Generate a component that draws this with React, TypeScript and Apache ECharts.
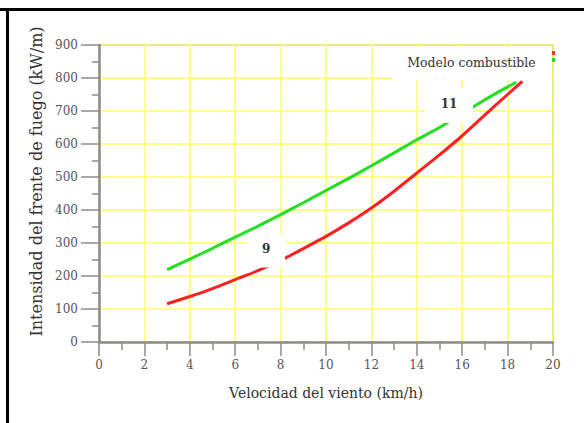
import React, { useEffect, useRef } from "react";
import * as echarts from "echarts";

// Curve for fuel model 11 (green)
const greenX = [3, 4, 5, 6, 7, 8, 9, 10, 11, 12, 13, 14, 15, 16, 17, 18, 18.38];
const greenY = [219, 251, 284, 318, 351, 386, 422, 459, 496, 534, 573, 613, 650, 692, 734, 773, 787];
// Curve for fuel model 9 (red)
const redX = [3, 4, 5, 6, 7, 8, 9, 10, 11, 12, 13, 14, 15, 16, 17, 18, 18.65];
const redY = [116, 138, 162, 189, 216, 247, 283, 320, 361, 406, 457, 512, 567, 625, 688, 750, 790];

const xTitle = "Velocidad del viento (km/h)";
const yTitle = "Intensidad del frente de fuego (kW/m)";
const legendTitle = "Modelo combustible";
const labelNine = "9";
const labelEleven = "11";

// label anchor points in data units [x, y] and white box size [w, h] in px
const labelTexts = [labelNine, labelEleven, legendTitle];
const labelAnchors = [
  [7.36, 277],
  [15.42, 717],
  [16.41, 843],
];
const labelBoxes = [
  [38, 34],
  [48, 35],
  [159, 32],
];
const labelBold = [true, true, false];
const labelSizes = [12, 12, 12.5];

const FONT = "DejaVu Serif";

export default function App() {
  const ref = useRef<HTMLDivElement>(null);

  useEffect(() => {
    if (!ref.current) return;
    const chart = echarts.init(ref.current, undefined, { renderer: "svg" });

    const green = greenX.map((x, i) => [x, greenY[i]]);
    const red = redX.map((x, i) => [x, redY[i]]);

    chart.setOption({
      animation: false,
      backgroundColor: "#ffffff",
      grid: {
        left: 99,
        right: 31,
        top: 45,
        bottom: 81,
        show: true,
        borderColor: "#a0a0a0",
        borderWidth: 1.5,
        backgroundColor: "transparent",
      },
      xAxis: {
        type: "value",
        min: 0,
        max: 20,
        interval: 2,
        name: xTitle,
        nameLocation: "middle",
        nameGap: 44,
        nameTextStyle: { fontFamily: FONT, fontSize: 14, color: "#333" },
        axisLine: { show: true, lineStyle: { color: "#8c8c8c", width: 2.5 } },
        axisTick: { show: true, length: 14, lineStyle: { color: "#8c8c8c", width: 1.5 } },
        minorTick: { show: true, splitNumber: 2, length: 8, lineStyle: { color: "#8c8c8c", width: 1.5 } },
        axisLabel: { margin: 17, fontFamily: FONT, fontSize: 12, color: "#555" },
        splitLine: { show: true, lineStyle: { color: "#ffff66", width: 1.5 } },
      },
      yAxis: {
        type: "value",
        min: 0,
        max: 900,
        interval: 100,
        name: yTitle,
        nameLocation: "middle",
        nameGap: 51,
        nameTextStyle: { fontFamily: FONT, fontSize: 16, color: "#333", padding: [0, 0, 0, 24] },
        axisLine: { show: true, lineStyle: { color: "#8c8c8c", width: 2.5 } },
        axisTick: { show: true, length: 18, lineStyle: { color: "#8c8c8c", width: 1.5 } },
        minorTick: { show: true, splitNumber: 2, length: 7, lineStyle: { color: "#8c8c8c", width: 1.5 } },
        axisLabel: { margin: 21, fontFamily: FONT, fontSize: 12, color: "#555" },
        splitLine: { show: true, lineStyle: { color: "#ffff66", width: 1.5 } },
      },
      series: [
        {
          type: "line",
          data: green,
          smooth: 0.2,
          showSymbol: false,
          lineStyle: { color: "#22e022", width: 3 },
        },
        {
          type: "line",
          data: red,
          smooth: 0.2,
          showSymbol: false,
          lineStyle: { color: "#ff2020", width: 3 },
        },
      ],
    });

    const labelGraphics: any[] = [];
    labelTexts.forEach((t, i) => {
      const p = chart.convertToPixel({ gridIndex: 0 }, labelAnchors[i]) as number[];
      const [w, h] = labelBoxes[i];
      labelGraphics.push({
        type: "rect",
        z: 100,
        silent: true,
        shape: { x: p[0] - w / 2, y: p[1] - h / 2, width: w, height: h },
        style: { fill: "#ffffff" },
      });
      labelGraphics.push({
        type: "text",
        z: 101,
        silent: true,
        x: p[0],
        y: p[1] - 1.5,
        style: {
          text: t,
          fill: "#333",
          font: `${labelBold[i] ? "bold " : ""}${labelSizes[i]}px "${FONT}"`,
          align: "center",
          verticalAlign: "middle",
        },
      });
    });

    chart.setOption({
      graphic: [
        { type: "rect", z: 100, shape: { x: 0, y: 8, width: 584, height: 3 }, style: { fill: "#000" } },
        { type: "rect", z: 100, shape: { x: 6, y: 8, width: 3, height: 415 }, style: { fill: "#000" } },
        { type: "rect", z: 100, shape: { x: 552, y: 51, width: 3, height: 4 }, style: { fill: "#ff3333" } },
        { type: "rect", z: 100, shape: { x: 552, y: 58, width: 3, height: 4 }, style: { fill: "#22dd22" } },
        ...labelGraphics,
      ],
    });

    return () => chart.dispose();
  }, []);

  return (
    <div
      ref={ref}
      style={{ position: "fixed", left: 0, top: 0, width: 584, height: 423 }}
    />
  );
}
